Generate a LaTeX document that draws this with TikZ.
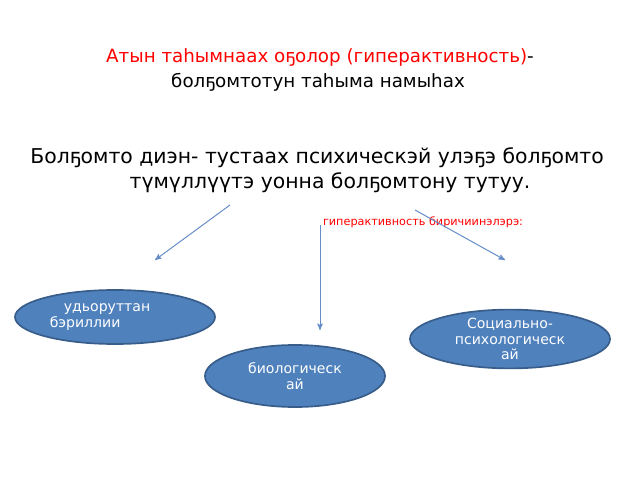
\documentclass[tikz,border=0pt]{standalone}
\usepackage{fontspec}
\setmainfont{DejaVu Sans}
\usetikzlibrary{arrows}
\usetikzlibrary{shapes.geometric}
\definecolor{blue1}{RGB}{79, 129, 189}
\definecolor{blue2}{RGB}{56, 93, 138}
\definecolor{line1}{RGB}{100, 140, 200}
\definecolor{red1}{RGB}{255, 0, 0}
\begin{document}
\begin{tikzpicture}[x=0.025cm, y=-0.025cm]
  \tikzset{kind/.style={ellipse, fill=blue1, draw=blue2, line width=1.2pt, text=white,
      font=\fontsize{10}{11}\selectfont, align=center, inner sep=0pt}}
  \useasboundingbox (0,0) rectangle (640,480);
  \node[font=\fontsize{13}{16}\selectfont] (t1) at (320,57) {\textcolor{red1}{Атын таһымнаах оҕолор (гиперактивность)}-};
  \node[font=\fontsize{13}{16}\selectfont] (t2) at (318,82) {болҕомтотун таһыма намыһах};
  \node[font=\fontsize{14.5}{18}\selectfont] (b1) at (317,158) {Болҕомто диэн- тустаах психическэй улэҕэ болҕомто};
  \node[font=\fontsize{14.5}{18}\selectfont] (b2) at (330,183) {түмүллүүтэ уонна болҕомтону тутуу.};
  \node[font=\fontsize{8}{10}\selectfont, text=red1] (cause) at (423,222) {гиперактивность биричиинэлэрэ:};

  \node[kind, minimum width=5cm, minimum height=1.35cm] (k1) at (115,317) {};
  \node[font=\fontsize{10}{11}\selectfont, text=white, align=left] (k1t) at (100,317) {\quad удьоруттан\\бэриллии};
  \node[kind, minimum width=5cm, minimum height=1.45cm] (k3) at (510,339) {Социально-\\психологическ\\ай};
  \node[kind, minimum width=4.5cm, minimum height=1.55cm] (k2) at (295,376) {биологическ\\ай};

  \coordinate (s1) at (230,205);
  \coordinate (e1) at (155,260);
  \coordinate (s2) at (320,225);
  \coordinate (e2) at (320,330);
  \coordinate (s3) at (415,210);
  \coordinate (e3) at (505,260);
  \foreach \from/\to in {s1/e1, s2/e2, s3/e3}
    \draw[line1, line width=0.7pt, ->, >=stealth'] (\from) -- (\to);
\end{tikzpicture}
\end{document}
